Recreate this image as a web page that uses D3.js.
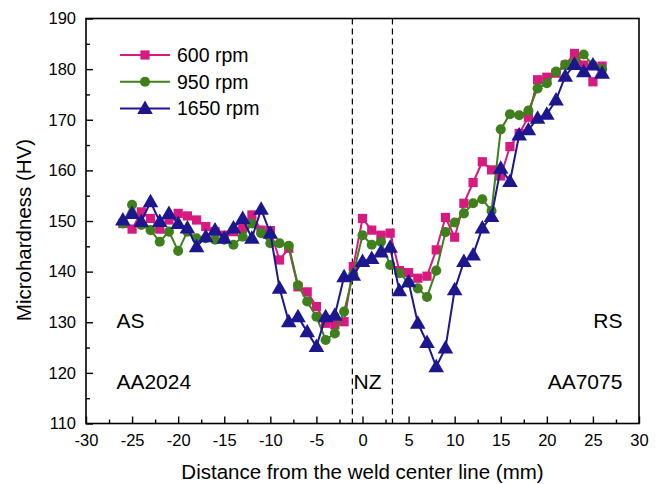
<!DOCTYPE html>
<html><head><meta charset="utf-8">
<script src="https://cdn.jsdelivr.net/npm/d3@7/dist/d3.min.js"></script>
<style>
body{margin:0;background:#fff}
svg{display:block;font-family:Arial,"Liberation Sans",sans-serif}
</style>
</head><body>
<svg id="chart" width="662" height="484"></svg>
<script>
// ---- data ----
const positions = [-26,-25,-24,-23,-22,-21,-20,-19,-18,-17,-16,-15,-14,-13,-12,-11,-10,-9,-8,-7,-6,-5,-4,-3,-2,-1,0,1,2,3,4,5,6,7,8,9,10,11,12,13,14,15,16,17,18,19,20,21,22,23,24,25,26];
const rpm600 = [149.5,148.4,151.8,150.5,148.4,150.2,151.5,151.0,150.2,148.9,147.9,147.2,147.9,148.6,151.2,148.2,148.1,142.3,144.6,137.0,136.0,133.1,129.8,129.5,130.1,141.0,150.5,148.2,147.2,147.6,140.2,139.8,138.7,139.1,144.3,150.7,146.8,153.5,157.6,161.7,160.1,158.9,164.7,167.3,170.5,177.9,178.4,179.2,180.8,183.1,180.8,177.5,180.6];
const rpm950 = [149.5,153.2,149.2,148.2,145.9,147.9,144.1,147.9,146.6,146.6,146.3,146.3,145.3,146.9,149.5,147.6,145.6,145.6,145.1,137.3,134.1,131.1,126.5,127.8,132.1,139.5,147.2,145.3,145.9,141.3,139.7,137.8,136.7,135.0,140.2,147.8,149.7,151.5,153.5,154.3,152.0,168.1,171.1,170.9,171.8,176.2,177.2,179.5,180.9,181.3,182.9,180.8,180.0];
const rpm1650 = [150.2,151.5,149.9,153.8,149.9,151.5,149.5,148.6,144.9,146.9,148.2,146.6,148.6,150.5,146.6,152.3,147.6,136.7,130.1,131.1,128.1,125.2,131.1,131.4,139.0,139.3,142.0,142.6,143.9,144.8,136.2,138.0,129.8,126.0,121.2,124.9,136.4,142.0,143.3,148.6,150.9,160.4,157.8,167.0,168.0,170.3,171.1,173.9,178.6,180.9,179.5,180.8,179.2];
const seriesNames = ["600 rpm","950 rpm","1650 rpm"];
const xTicks = [-30,-25,-20,-15,-10,-5,0,5,10,15,20,25,30];
const xMinorTicks = [-27.5,-22.5,-17.5,-12.5,-7.5,-2.5,2.5,7.5,12.5,17.5,22.5,27.5];
const yTicks = [110,120,130,140,150,160,170,180,190];
const yMinorTicks = [115,125,135,145,155,165,175,185];
const zoneLines = [-1.1,3.25];
const annotations = [
  {text:"AS", x:-26.7, y:128.8, anchor:"start"},
  {text:"AA2024", x:-26.7, y:116.9, anchor:"start"},
  {text:"NZ", x:0.55, y:116.9, anchor:"middle"},
  {text:"RS", x:28.2, y:128.8, anchor:"end"},
  {text:"AA7075", x:28.2, y:116.9, anchor:"end"}
];

// ---- layout ----
const svg = d3.select("#chart");
const L=86, R=639, T=18.5, B=423.5;
const x = d3.scaleLinear().domain([-30,30]).range([L,R]);
const y = d3.scaleLinear().domain([110,190]).range([B,T]);

const colors = ["#d61a80","#3f7f1c","#1c178f"];
const shapes = [d3.symbolSquare, d3.symbolCircle, d3.symbolTriangle];
const sizes = [85, 80, 105];

svg.append("rect").attr("x",L).attr("y",T).attr("width",R-L).attr("height",B-T).attr("fill","#fff");

// zone dashed lines
svg.selectAll(".zone").data(zoneLines).join("line")
  .attr("x1",d=>x(d)).attr("x2",d=>x(d)).attr("y1",T).attr("y2",B)
  .attr("stroke","#000").attr("stroke-width",1.2).attr("stroke-dasharray","6,4");

// axes
function styleAxis(g){
  g.select(".domain").remove();
  g.selectAll(".tick line").attr("stroke","#000").attr("stroke-width",1.4);
  g.selectAll(".tick text").attr("fill","#000").style("font-size","16.5px").style("font-family","Arial, 'Liberation Sans', sans-serif");
}
svg.append("g").attr("transform",`translate(0,${B})`)
  .call(d3.axisBottom(x).tickValues(xTicks).tickSize(-7).tickPadding(10.5).tickFormat(d3.format("d")))
  .call(styleAxis);
svg.append("g").attr("transform",`translate(0,${B})`)
  .call(d3.axisBottom(x).tickValues(xMinorTicks).tickSize(-4).tickFormat(""))
  .call(styleAxis);
svg.append("g").attr("transform",`translate(${L},0)`)
  .call(d3.axisLeft(y).tickValues(yTicks).tickSize(-7).tickPadding(10).tickFormat(d3.format("d")))
  .call(styleAxis);
svg.append("g").attr("transform",`translate(${L},0)`)
  .call(d3.axisLeft(y).tickValues(yMinorTicks).tickSize(-4).tickFormat(""))
  .call(styleAxis);
// replace minus sign with hyphen look
svg.selectAll(".tick text").text(function(){return d3.select(this).text().replace("\u2212","-");});

// annotations
svg.selectAll(".ann").data(annotations).join("text")
  .attr("x",d=>x(d.x)).attr("y",d=>y(d.y)).attr("text-anchor",d=>d.anchor)
  .style("font-size","21px").attr("fill","#000").text(d=>d.text);

// series
const allSeries = [rpm600, rpm950, rpm1650];
const line = d3.line().x((d,i)=>x(positions[i])).y(d=>y(d));
allSeries.forEach((vals,k)=>{
  const g = svg.append("g");
  g.append("path").datum(vals).attr("d",line).attr("fill","none")
    .attr("stroke",colors[k]).attr("stroke-width",2);
  g.selectAll("path.m").data(vals).join("path").attr("class","m")
    .attr("d",d3.symbol().type(shapes[k]).size(sizes[k]))
    .attr("transform",(d,i)=>`translate(${x(positions[i])},${y(d)+(k===2?1:0)})`)
    .attr("fill",colors[k]);
});

// frame
svg.append("rect").attr("x",L).attr("y",T).attr("width",R-L).attr("height",B-T)
  .attr("fill","none").attr("stroke","#000").attr("stroke-width",1.6);

// legend
const leg = svg.append("g");
const legY = [55,81.7,108.5];
seriesNames.forEach((name,k)=>{
  leg.append("line").attr("x1",120).attr("x2",170).attr("y1",legY[k]).attr("y2",legY[k])
    .attr("stroke",colors[k]).attr("stroke-width",2);
  leg.append("path").attr("d",d3.symbol().type(shapes[k]).size(sizes[k]))
    .attr("transform",`translate(145,${legY[k]+(k===2?1:0)})`).attr("fill",colors[k]);
  leg.append("text").attr("x",177).attr("y",legY[k]+6.8).style("font-size","19.5px").attr("fill","#000").text(name);
});

// axis titles
svg.append("text").attr("x",(L+R)/2).attr("y",479).attr("text-anchor","middle")
  .style("font-size","20.5px").attr("fill","#000").text("Distance from the weld center line (mm)");
svg.append("text").attr("transform","translate(31,230) rotate(-90)").attr("text-anchor","middle")
  .style("font-size","20.5px").attr("fill","#000").text("Microhardness (HV)");
</script>
</body></html>
